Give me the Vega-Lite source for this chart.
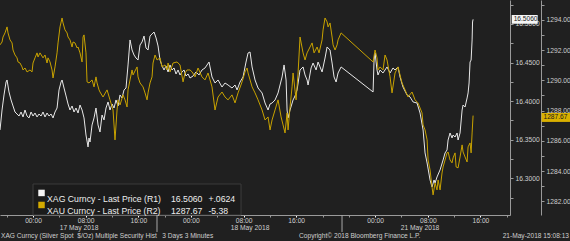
{
  "$schema": "https://vega.github.io/schema/vega-lite/v6.json",
  "width": 510,
  "height": 215,
  "autosize": {"type": "none"},
  "padding": {"left": 0, "top": 0, "right": 60, "bottom": 26},
  "background": "#202020",
  "config": {
    "view": {"stroke": null},
    "font": "Liberation Sans",
    "axis": {"grid": false, "title": null, "domainColor": "#9a9a9a", "tickColor": "#9a9a9a", "labelColor": "#cfcfcf", "labelFont": "Liberation Sans", "labelFontSize": 6.7, "labelOverlap": false, "labelFlush": false, "labelBound": false}
  },
  "datasets": {
    "xag": [
      {"h":-5.02,"v":16.3626},{"h":-4.71,"v":16.3885},{"h":-4.41,"v":16.408},{"h":-4.10,"v":16.4248},{"h":-3.95,"v":16.4274},{"h":-3.65,"v":16.4119},{"h":-3.34,"v":16.4015},{"h":-3.04,"v":16.3937},{"h":-2.74,"v":16.3859},{"h":-2.43,"v":16.3833},{"h":-2.13,"v":16.3807},{"h":-1.82,"v":16.3859},{"h":-1.52,"v":16.3795},{"h":-1.22,"v":16.3885},{"h":-0.91,"v":16.3807},{"h":-0.61,"v":16.3782},{"h":-0.30,"v":16.3859},{"h":0,"v":16.3807},{"h":0.30,"v":16.3846},{"h":0.61,"v":16.3795},{"h":0.91,"v":16.3833},{"h":1.22,"v":16.3807},{"h":1.52,"v":16.3859},{"h":1.82,"v":16.3795},{"h":2.13,"v":16.3846},{"h":2.43,"v":16.3807},{"h":2.74,"v":16.3833},{"h":3.04,"v":16.3782},{"h":3.34,"v":16.3859},{"h":3.65,"v":16.3911},{"h":3.95,"v":16.4145},{"h":4.26,"v":16.4248},{"h":4.41,"v":16.4274},{"h":4.71,"v":16.417},{"h":5.02,"v":16.4067},{"h":5.32,"v":16.3963},{"h":5.62,"v":16.3885},{"h":5.93,"v":16.3937},{"h":6.23,"v":16.3859},{"h":6.53,"v":16.3911},{"h":6.84,"v":16.3846},{"h":7.14,"v":16.395},{"h":7.45,"v":16.3885},{"h":7.75,"v":16.3782},{"h":8.05,"v":16.3561},{"h":8.36,"v":16.3406},{"h":8.51,"v":16.3522},{"h":8.66,"v":16.347},{"h":8.97,"v":16.3691},{"h":9.27,"v":16.3782},{"h":9.57,"v":16.3911},{"h":9.88,"v":16.3691},{"h":10.18,"v":16.36},{"h":10.49,"v":16.382},{"h":10.79,"v":16.3756},{"h":11.09,"v":16.3911},{"h":11.40,"v":16.3989},{"h":11.70,"v":16.3885},{"h":12.01,"v":16.3963},{"h":12.31,"v":16.3911},{"h":12.61,"v":16.4015},{"h":12.92,"v":16.3937},{"h":13.22,"v":16.408},{"h":13.53,"v":16.4041},{"h":13.83,"v":16.4145},{"h":14.13,"v":16.417},{"h":14.44,"v":16.4469},{"h":14.74,"v":16.4793},{"h":15.05,"v":16.4663},{"h":15.35,"v":16.4598},{"h":15.65,"v":16.4559},{"h":15.96,"v":16.4533},{"h":16.26,"v":16.4728},{"h":16.57,"v":16.4767},{"h":16.87,"v":16.4844},{"h":17.17,"v":16.4689},{"h":17.48,"v":16.4663},{"h":17.78,"v":16.4844},{"h":18.09,"v":16.487},{"h":18.39,"v":16.4896},{"h":18.70,"v":16.4819},{"h":19.00,"v":16.4715},{"h":19.30,"v":16.4533},{"h":19.61,"v":16.4456},{"h":19.91,"v":16.4404},{"h":20.21,"v":16.4456},{"h":20.52,"v":16.4378},{"h":20.82,"v":16.4469},{"h":21.12,"v":16.4404},{"h":21.43,"v":16.443},{"h":21.73,"v":16.4352},{"h":22.04,"v":16.4404},{"h":22.34,"v":16.4339},{"h":22.64,"v":16.4378},{"h":22.95,"v":16.4404},{"h":23.25,"v":16.4326},{"h":23.56,"v":16.4352},{"h":23.86,"v":16.43},{"h":24.32,"v":16.4326},{"h":24.77,"v":16.4378},{"h":25.23,"v":16.4339},{"h":25.68,"v":16.4404},{"h":26.14,"v":16.443},{"h":26.75,"v":16.4507},{"h":27.20,"v":16.4313},{"h":27.66,"v":16.4235},{"h":28.12,"v":16.4274},{"h":28.72,"v":16.4183},{"h":29.18,"v":16.4235},{"h":29.64,"v":16.4209},{"h":30.24,"v":16.417},{"h":30.70,"v":16.4209},{"h":31.01,"v":16.4145},{"h":31.46,"v":16.4248},{"h":31.92,"v":16.4313},{"h":32.37,"v":16.4507},{"h":32.68,"v":16.4624},{"h":32.98,"v":16.4637},{"h":33.29,"v":16.4443},{"h":33.74,"v":16.4274},{"h":34.20,"v":16.417},{"h":34.81,"v":16.4106},{"h":35.26,"v":16.3976},{"h":35.72,"v":16.3885},{"h":36.02,"v":16.3963},{"h":36.33,"v":16.3976},{"h":36.78,"v":16.4015},{"h":37.24,"v":16.4106},{"h":37.54,"v":16.4209},{"h":37.85,"v":16.4313},{"h":38.15,"v":16.4469},{"h":38.46,"v":16.4274},{"h":38.61,"v":16.3885},{"h":38.76,"v":16.3782},{"h":39.06,"v":16.3885},{"h":39.52,"v":16.4015},{"h":39.82,"v":16.4067},{"h":40.13,"v":16.4145},{"h":40.58,"v":16.4404},{"h":41.04,"v":16.4443},{"h":41.34,"v":16.4339},{"h":41.65,"v":16.4274},{"h":41.80,"v":16.4209},{"h":42.26,"v":16.443},{"h":42.56,"v":16.4494},{"h":43.02,"v":16.4404},{"h":43.32,"v":16.4507},{"h":43.62,"v":16.4443},{"h":43.93,"v":16.4378},{"h":44.38,"v":16.4559},{"h":44.69,"v":16.4702},{"h":45.14,"v":16.4663},{"h":45.45,"v":16.4494},{"h":45.75,"v":16.4313},{"h":46.06,"v":16.4248},{"h":46.36,"v":16.4365},{"h":46.82,"v":16.4443},{"h":51.68,"v":16.4119},{"h":51.83,"v":16.4533},{"h":51.98,"v":16.4624},{"h":52.28,"v":16.4404},{"h":52.43,"v":16.4339},{"h":52.74,"v":16.4404},{"h":53.19,"v":16.4365},{"h":53.80,"v":16.4443},{"h":54.26,"v":16.4365},{"h":54.71,"v":16.443},{"h":55.02,"v":16.4404},{"h":55.47,"v":16.4443},{"h":55.78,"v":16.4313},{"h":56.23,"v":16.4183},{"h":56.84,"v":16.408},{"h":57.30,"v":16.4054},{"h":57.76,"v":16.3989},{"h":58.36,"v":16.3976},{"h":58.82,"v":16.3846},{"h":59.28,"v":16.3626},{"h":59.58,"v":16.3328},{"h":59.89,"v":16.3198},{"h":60.34,"v":16.2978},{"h":60.64,"v":16.2887},{"h":60.95,"v":16.2978},{"h":61.10,"v":16.2939},{"h":61.40,"v":16.3017},{"h":61.86,"v":16.3108},{"h":62.32,"v":16.3237},{"h":62.62,"v":16.3328},{"h":62.92,"v":16.3367},{"h":63.08,"v":16.3496},{"h":63.38,"v":16.3587},{"h":63.68,"v":16.3522},{"h":63.84,"v":16.3561},{"h":64.14,"v":16.3535},{"h":64.45,"v":16.3587},{"h":64.60,"v":16.3496},{"h":64.90,"v":16.3587},{"h":65.21,"v":16.3885},{"h":65.36,"v":16.395},{"h":65.66,"v":16.3924},{"h":65.97,"v":16.4041},{"h":66.12,"v":16.4106},{"h":66.27,"v":16.4235},{"h":66.42,"v":16.4507},{"h":66.58,"v":16.4533},{"h":66.73,"v":16.4793},{"h":66.80,"v":16.5026},{"h":66.88,"v":16.506}
    ],
    "xau": [
      {"h":-5.02,"v":1292.35},{"h":-4.71,"v":1292.54},{"h":-4.56,"v":1292.87},{"h":-4.26,"v":1293.14},{"h":-3.95,"v":1293.54},{"h":-3.80,"v":1293.14},{"h":-3.50,"v":1292.68},{"h":-3.19,"v":1292.48},{"h":-3.04,"v":1292.01},{"h":-2.74,"v":1291.68},{"h":-2.43,"v":1291.49},{"h":-2.28,"v":1291.22},{"h":-1.98,"v":1291.15},{"h":-1.67,"v":1290.89},{"h":-1.52,"v":1290.69},{"h":-1.22,"v":1290.82},{"h":-0.91,"v":1290.56},{"h":-0.46,"v":1290.69},{"h":-0.15,"v":1290.56},{"h":0,"v":1291.15},{"h":0.30,"v":1291.49},{"h":0.61,"v":1291.82},{"h":0.76,"v":1291.55},{"h":1.06,"v":1291.82},{"h":1.52,"v":1291.49},{"h":1.82,"v":1291.68},{"h":2.13,"v":1291.15},{"h":2.28,"v":1291.49},{"h":2.58,"v":1291.22},{"h":2.89,"v":1290.69},{"h":3.04,"v":1290.16},{"h":3.34,"v":1290.89},{"h":3.65,"v":1291.82},{"h":3.80,"v":1292.48},{"h":4.10,"v":1293.54},{"h":4.41,"v":1294.13},{"h":4.56,"v":1293.8},{"h":4.86,"v":1293.34},{"h":5.17,"v":1293.14},{"h":5.32,"v":1292.87},{"h":5.62,"v":1292.68},{"h":5.93,"v":1292.21},{"h":6.08,"v":1292.54},{"h":6.38,"v":1292.48},{"h":6.69,"v":1292.15},{"h":6.84,"v":1292.21},{"h":7.14,"v":1291.82},{"h":7.45,"v":1291.22},{"h":7.60,"v":1292.87},{"h":7.75,"v":1293.01},{"h":8.05,"v":1291.82},{"h":8.21,"v":1289.9},{"h":8.51,"v":1289.83},{"h":8.97,"v":1290.03},{"h":9.27,"v":1289.57},{"h":9.57,"v":1290.23},{"h":9.73,"v":1289.83},{"h":10.03,"v":1289.37},{"h":10.18,"v":1289.23},{"h":10.64,"v":1288.9},{"h":11.25,"v":1289.37},{"h":11.70,"v":1288.71},{"h":12.16,"v":1288.04},{"h":12.46,"v":1286.06},{"h":12.77,"v":1288.04},{"h":12.92,"v":1288.71},{"h":13.22,"v":1288.37},{"h":13.68,"v":1289.04},{"h":13.98,"v":1288.71},{"h":14.29,"v":1288.24},{"h":14.44,"v":1289.37},{"h":14.74,"v":1290.03},{"h":15.05,"v":1290.69},{"h":15.20,"v":1290.36},{"h":15.81,"v":1290.89},{"h":15.96,"v":1290.23},{"h":16.26,"v":1289.83},{"h":16.72,"v":1289.57},{"h":17.02,"v":1289.17},{"h":17.33,"v":1288.71},{"h":17.48,"v":1289.17},{"h":17.78,"v":1289.83},{"h":18.09,"v":1290.23},{"h":18.24,"v":1291.15},{"h":18.54,"v":1291.68},{"h":18.85,"v":1291.35},{"h":19.30,"v":1291.49},{"h":19.61,"v":1290.89},{"h":20.06,"v":1291.02},{"h":20.37,"v":1290.69},{"h":20.52,"v":1291.15},{"h":20.82,"v":1290.56},{"h":21.28,"v":1291.15},{"h":21.89,"v":1291.22},{"h":22.34,"v":1291.02},{"h":22.80,"v":1289.9},{"h":23.10,"v":1290.49},{"h":23.41,"v":1290.69},{"h":23.86,"v":1290.69},{"h":24.17,"v":1290.56},{"h":24.62,"v":1290.23},{"h":25.08,"v":1290.82},{"h":25.68,"v":1290.23},{"h":26.14,"v":1290.03},{"h":26.60,"v":1290.49},{"h":27.20,"v":1289.57},{"h":27.66,"v":1288.04},{"h":28.12,"v":1288.9},{"h":28.72,"v":1289.23},{"h":29.18,"v":1288.9},{"h":29.64,"v":1288.71},{"h":30.24,"v":1289.04},{"h":30.70,"v":1288.51},{"h":31.16,"v":1289.17},{"h":31.77,"v":1289.9},{"h":32.22,"v":1290.56},{"h":32.53,"v":1290.82},{"h":32.68,"v":1290.49},{"h":33.29,"v":1289.57},{"h":33.74,"v":1289.17},{"h":34.20,"v":1288.71},{"h":34.81,"v":1288.04},{"h":35.26,"v":1287.38},{"h":35.72,"v":1287.58},{"h":36.02,"v":1286.72},{"h":36.33,"v":1287.38},{"h":36.78,"v":1288.04},{"h":37.24,"v":1288.71},{"h":37.70,"v":1287.58},{"h":38.00,"v":1287.05},{"h":38.30,"v":1286.52},{"h":38.61,"v":1287.85},{"h":38.76,"v":1286.72},{"h":39.06,"v":1288.24},{"h":39.37,"v":1289.57},{"h":39.52,"v":1290.49},{"h":39.98,"v":1288.71},{"h":40.28,"v":1290.49},{"h":40.58,"v":1292.87},{"h":41.04,"v":1291.82},{"h":41.34,"v":1291.35},{"h":41.65,"v":1291.82},{"h":42.10,"v":1292.21},{"h":42.41,"v":1292.48},{"h":42.71,"v":1291.82},{"h":43.17,"v":1292.21},{"h":43.47,"v":1291.82},{"h":43.93,"v":1292.68},{"h":44.08,"v":1293.34},{"h":44.38,"v":1294.13},{"h":44.69,"v":1293.87},{"h":44.84,"v":1293.54},{"h":45.14,"v":1293.8},{"h":45.45,"v":1292.87},{"h":45.60,"v":1292.35},{"h":45.90,"v":1292.01},{"h":46.21,"v":1292.35},{"h":46.36,"v":1292.68},{"h":46.82,"v":1293.14},{"h":51.68,"v":1291.22},{"h":51.98,"v":1292.01},{"h":52.28,"v":1291.49},{"h":52.43,"v":1290.69},{"h":52.74,"v":1290.89},{"h":53.19,"v":1290.69},{"h":53.50,"v":1291.68},{"h":53.80,"v":1291.35},{"h":54.26,"v":1290.23},{"h":54.56,"v":1289.17},{"h":55.02,"v":1290.49},{"h":55.47,"v":1290.89},{"h":56.08,"v":1289.83},{"h":56.54,"v":1289.37},{"h":56.99,"v":1288.9},{"h":57.60,"v":1289.23},{"h":58.06,"v":1288.71},{"h":58.51,"v":1288.51},{"h":59.12,"v":1287.85},{"h":59.28,"v":1287.05},{"h":59.58,"v":1286.72},{"h":59.89,"v":1286.06},{"h":60.04,"v":1284.73},{"h":60.34,"v":1284.07},{"h":60.64,"v":1282.95},{"h":60.80,"v":1282.42},{"h":61.10,"v":1283.21},{"h":61.40,"v":1282.75},{"h":61.56,"v":1283.41},{"h":61.86,"v":1282.75},{"h":62.16,"v":1283.87},{"h":62.32,"v":1284.27},{"h":62.62,"v":1284.73},{"h":62.92,"v":1285.2},{"h":63.08,"v":1285.26},{"h":63.38,"v":1284.73},{"h":63.68,"v":1284.54},{"h":63.84,"v":1284.87},{"h":64.14,"v":1285.2},{"h":64.30,"v":1284.27},{"h":64.60,"v":1284.21},{"h":64.90,"v":1284.93},{"h":65.21,"v":1285.73},{"h":65.36,"v":1285.26},{"h":65.66,"v":1284.93},{"h":65.97,"v":1284.6},{"h":66.12,"v":1285.6},{"h":66.42,"v":1285.86},{"h":66.58,"v":1285.2},{"h":66.73,"v":1286.52},{"h":66.88,"v":1287.67}
    ]
  },
  "layer": [
    {
      "data": {"name": "xag"},
      "mark": {"type": "line", "strokeWidth": 1, "clip": true, "color": "#e8e8e8"},
      "encoding": {
        "x": {"field": "h", "type": "quantitative", "scale": {"domain": [-5.02, 72.49], "nice": false, "zero": false},
          "axis": {"orient": "bottom", "values": [-4,0,4,8,12,16,20,24,28,32,36,40,44,48,52,56,60,64,68,72], "tickSize": 2, "labelPadding": 0,
            "tickColor": {"condition": {"test": "indexof([0,8,16,24,32,40,52,60,68], datum.value) >= 0", "value": "#ffffff"}, "value": "#9a9a9a"},
            "labelExpr": "indexof([0,24,52], datum.value) >= 0 ? '00:00' : indexof([8,32,60], datum.value) >= 0 ? '08:00' : indexof([16,40,68], datum.value) >= 0 ? '16:00' : ''"}},
        "y": {"field": "v", "type": "quantitative", "scale": {"domain": [16.2524, 16.5311], "nice": false, "zero": false},
          "axis": {"orient": "right", "offset": 0, "values": [16.275,16.3,16.325,16.35,16.375,16.4,16.425,16.45,16.475,16.5,16.525], "tickSize": 3, "labelPadding": 2,
            "labelExpr": "round(datum.value*1000) % 50 == 0 ? format(datum.value, '.4f') : ''"}}
      }
    },
    {
      "data": {"name": "xau"},
      "mark": {"type": "line", "strokeWidth": 1, "clip": true, "color": "#c8a200"},
      "encoding": {
        "x": {"field": "h", "type": "quantitative", "scale": {"domain": [-5.02, 72.49], "nice": false, "zero": false}, "axis": null},
        "y": {"field": "v", "type": "quantitative", "scale": {"domain": [1281.09, 1295.32], "nice": false, "zero": false},
          "axis": {"orient": "right", "offset": 31, "values": [1282,1283,1284,1285,1286,1287,1288,1289,1290,1291,1292,1293,1294,1295], "tickSize": 3, "labelPadding": 2,
            "labelExpr": "datum.value % 2 == 0 ? format(datum.value, '.2f') : ''"}}
      }
    },
    {
      "data": {"values": [{}]},
      "mark": {"type": "rect", "fill": "#1b1b1b", "stroke": "#3c3c3c", "strokeWidth": 1},
      "encoding": {
        "x": {"datum": 0, "type": "quantitative", "scale": {"domain": [-5.02, 72.49], "nice": false, "zero": false}, "axis": null}, "x2": {"datum": 31.61},
        "y": {"datum": 16.2926, "type": "quantitative", "scale": {"domain": [16.2524, 16.5311], "nice": false, "zero": false}, "axis": null}, "y2": {"datum": 16.2524}
      }
    },
    {
      "data": {"values": [{}]},
      "mark": {"type": "point", "shape": "square", "filled": true, "size": 42, "color": "#f4f4f4", "opacity": 1},
      "encoding": {
        "x": {"datum": 1.29, "type": "quantitative", "scale": {"domain": [-5.02, 72.49], "nice": false, "zero": false}, "axis": null},
        "y": {"datum": 16.2810, "type": "quantitative", "scale": {"domain": [16.2524, 16.5311], "nice": false, "zero": false}, "axis": null}
      }
    },
    {
      "data": {"values": [{}]},
      "mark": {"type": "point", "shape": "square", "filled": true, "size": 42, "color": "#d4aa00", "opacity": 1},
      "encoding": {
        "x": {"datum": 1.29, "type": "quantitative", "scale": {"domain": [-5.02, 72.49], "nice": false, "zero": false}, "axis": null},
        "y": {"datum": 16.2654, "type": "quantitative", "scale": {"domain": [16.2524, 16.5311], "nice": false, "zero": false}, "axis": null}
      }
    },
    {
      "data": {"values": [{}]},
      "mark": {"type": "text", "text": ["XAG Curncy - Last Price (R1)", "XAU Curncy - Last Price (R2)"], "lineHeight": 12, "align": "left", "baseline": "middle", "fontSize": 8.7, "color": "#eeeeee"},
      "encoding": {
        "x": {"datum": 2.13, "type": "quantitative", "scale": {"domain": [-5.02, 72.49], "nice": false, "zero": false}, "axis": null},
        "y": {"datum": 16.2732, "type": "quantitative", "scale": {"domain": [16.2524, 16.5311], "nice": false, "zero": false}, "axis": null}
      }
    },
    {
      "data": {"values": [{}]},
      "mark": {"type": "text", "text": ["16.5060", "1287.67"], "lineHeight": 12, "align": "left", "baseline": "middle", "fontSize": 8.7, "color": "#eeeeee"},
      "encoding": {
        "x": {"datum": 20.97, "type": "quantitative", "scale": {"domain": [-5.02, 72.49], "nice": false, "zero": false}, "axis": null},
        "y": {"datum": 16.2732, "type": "quantitative", "scale": {"domain": [16.2524, 16.5311], "nice": false, "zero": false}, "axis": null}
      }
    },
    {
      "data": {"values": [{}]},
      "mark": {"type": "text", "text": ["+.0624", "-5.38"], "lineHeight": 12, "align": "left", "baseline": "middle", "fontSize": 8.7, "color": "#eeeeee"},
      "encoding": {
        "x": {"datum": 26.65, "type": "quantitative", "scale": {"domain": [-5.02, 72.49], "nice": false, "zero": false}, "axis": null},
        "y": {"datum": 16.2732, "type": "quantitative", "scale": {"domain": [16.2524, 16.5311], "nice": false, "zero": false}, "axis": null}
      }
    },
    {
      "data": {"values": [{}]},
      "mark": {"type": "rule", "color": "#a8a8a8", "strokeWidth": 1},
      "encoding": {
        "x": {"datum": 18.84, "type": "quantitative", "scale": {"domain": [-5.02, 72.49], "nice": false, "zero": false}, "axis": null},
        "y": {"datum": 16.2524, "type": "quantitative", "scale": {"domain": [16.2524, 16.5311], "nice": false, "zero": false}, "axis": null}, "y2": {"datum": 16.2304}
      }
    },
    {
      "data": {"values": [{}]},
      "mark": {"type": "rule", "color": "#a8a8a8", "strokeWidth": 1},
      "encoding": {
        "x": {"datum": 46.96, "type": "quantitative", "scale": {"domain": [-5.02, 72.49], "nice": false, "zero": false}, "axis": null},
        "y": {"datum": 16.2524, "type": "quantitative", "scale": {"domain": [16.2524, 16.5311], "nice": false, "zero": false}, "axis": null}, "y2": {"datum": 16.2304}
      }
    },
    {
      "data": {"values": [{}]},
      "mark": {"type": "text", "text": "17 May 2018", "align": "center", "baseline": "middle", "fontSize": 6.7, "color": "#cfcfcf"},
      "encoding": {
        "x": {"datum": 6.99, "type": "quantitative", "scale": {"domain": [-5.02, 72.49], "nice": false, "zero": false}, "axis": null},
        "y": {"datum": 16.2356, "type": "quantitative", "scale": {"domain": [16.2524, 16.5311], "nice": false, "zero": false}, "axis": null}
      }
    },
    {
      "data": {"values": [{}]},
      "mark": {"type": "text", "text": "18 May 2018", "align": "center", "baseline": "middle", "fontSize": 6.7, "color": "#cfcfcf"},
      "encoding": {
        "x": {"datum": 32.98, "type": "quantitative", "scale": {"domain": [-5.02, 72.49], "nice": false, "zero": false}, "axis": null},
        "y": {"datum": 16.2356, "type": "quantitative", "scale": {"domain": [16.2524, 16.5311], "nice": false, "zero": false}, "axis": null}
      }
    },
    {
      "data": {"values": [{}]},
      "mark": {"type": "text", "text": "21 May 2018", "align": "center", "baseline": "middle", "fontSize": 6.7, "color": "#cfcfcf"},
      "encoding": {
        "x": {"datum": 58.81, "type": "quantitative", "scale": {"domain": [-5.02, 72.49], "nice": false, "zero": false}, "axis": null},
        "y": {"datum": 16.2356, "type": "quantitative", "scale": {"domain": [16.2524, 16.5311], "nice": false, "zero": false}, "axis": null}
      }
    },
    {
      "data": {"values": [{}]},
      "mark": {"type": "rect", "color": "#f4f4f4"},
      "encoding": {
        "x": {"datum": 72.75, "type": "quantitative", "scale": {"domain": [-5.02, 72.49], "nice": false, "zero": false}, "axis": null}, "x2": {"datum": 76.7},
        "y": {"datum": 16.5118, "type": "quantitative", "scale": {"domain": [16.2524, 16.5311], "nice": false, "zero": false}, "axis": null}, "y2": {"datum": 16.5002}
      }
    },
    {
      "data": {"values": [{}]},
      "mark": {"type": "text", "text": "16.5060", "align": "left", "baseline": "middle", "fontSize": 6.6, "color": "#202020"},
      "encoding": {
        "x": {"datum": 73.05, "type": "quantitative", "scale": {"domain": [-5.02, 72.49], "nice": false, "zero": false}, "axis": null},
        "y": {"datum": 16.506, "type": "quantitative", "scale": {"domain": [16.2524, 16.5311], "nice": false, "zero": false}, "axis": null}
      }
    },
    {
      "data": {"values": [{}]},
      "mark": {"type": "rect", "color": "#d9b000"},
      "encoding": {
        "x": {"datum": 77.28, "type": "quantitative", "scale": {"domain": [-5.02, 72.49], "nice": false, "zero": false}, "axis": null}, "x2": {"datum": 81.7},
        "y": {"datum": 1287.845, "type": "quantitative", "scale": {"domain": [1281.09, 1295.32], "nice": false, "zero": false}, "axis": null}, "y2": {"datum": 1287.25}
      }
    },
    {
      "data": {"values": [{}]},
      "mark": {"type": "text", "text": "1287.67", "align": "left", "baseline": "middle", "fontSize": 6.6, "color": "#202020"},
      "encoding": {
        "x": {"datum": 77.58, "type": "quantitative", "scale": {"domain": [-5.02, 72.49], "nice": false, "zero": false}, "axis": null},
        "y": {"datum": 1287.55, "type": "quantitative", "scale": {"domain": [1281.09, 1295.32], "nice": false, "zero": false}, "axis": null}
      }
    },
    {
      "data": {"values": [{}]},
      "mark": {"type": "text", "text": "XAG Curncy (Silver Spot\u00a0 $/Oz) Multiple Security Hist\u00a0\u00a0 3 Days 3 Minutes", "align": "left", "baseline": "middle", "fontSize": 6.6, "color": "#cfcfcf"},
      "encoding": {
        "x": {"datum": -4.86, "type": "quantitative", "scale": {"domain": [-5.02, 72.49], "nice": false, "zero": false}, "axis": null},
        "y": {"datum": 16.2246, "type": "quantitative", "scale": {"domain": [16.2524, 16.5311], "nice": false, "zero": false}, "axis": null}
      }
    },
    {
      "data": {"values": [{}]},
      "mark": {"type": "text", "text": "Copyright© 2018 Bloomberg Finance L.P.", "align": "left", "baseline": "middle", "fontSize": 6.6, "color": "#cfcfcf"},
      "encoding": {
        "x": {"datum": 40.43, "type": "quantitative", "scale": {"domain": [-5.02, 72.49], "nice": false, "zero": false}, "axis": null},
        "y": {"datum": 16.2246, "type": "quantitative", "scale": {"domain": [16.2524, 16.5311], "nice": false, "zero": false}, "axis": null}
      }
    },
    {
      "data": {"values": [{}]},
      "mark": {"type": "text", "text": "21-May-2018 15:08:13", "align": "right", "baseline": "middle", "fontSize": 6.6, "color": "#cfcfcf"},
      "encoding": {
        "x": {"datum": 81.46, "type": "quantitative", "scale": {"domain": [-5.02, 72.49], "nice": false, "zero": false}, "axis": null},
        "y": {"datum": 16.2246, "type": "quantitative", "scale": {"domain": [16.2524, 16.5311], "nice": false, "zero": false}, "axis": null}
      }
    }
  ],
  "resolve": {"scale": {"y": "independent"}, "axis": {"x": "independent"}}
}
